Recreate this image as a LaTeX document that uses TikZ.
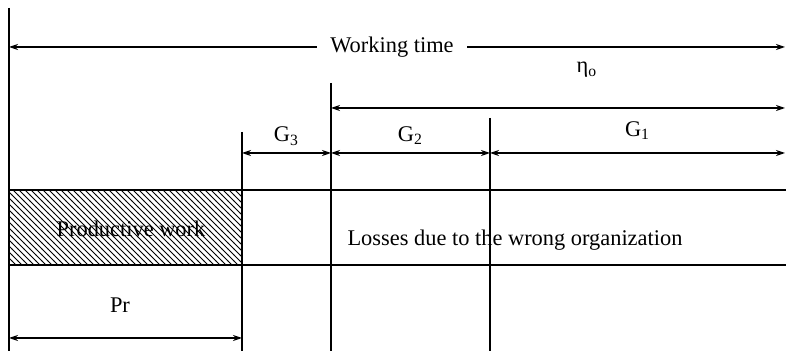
\documentclass[tikz,border=0pt]{standalone}
\usepackage{fontspec}
\setmainfont{Liberation Serif}
\usetikzlibrary{arrows.meta,patterns}

\begin{document}
\begin{tikzpicture}[x=0.5pt, y=-0.5pt, line width=0.6pt,
            >={Stealth[length=4.5pt, width=3pt]},
            lbl/.style = {font=\fontsize{11.2}{13}\selectfont, inner sep=0pt}]
            \useasboundingbox (0,0) rectangle (786,351);

            % verticals
            \coordinate (L0) at (9,8);      \coordinate (L1) at (9,351);
            \coordinate (P0) at (242,132);  \coordinate (P1) at (242,351);
            \coordinate (E0) at (331,83);   \coordinate (E1) at (331,351);
            \coordinate (F0) at (490,118);  \coordinate (F1) at (490,351);

            % bands
            \coordinate (U0) at (9,190);    \coordinate (U1) at (786,190);
            \coordinate (D0) at (9,265);    \coordinate (D1) at (786,265);

            \path[pattern=north west lines] (U0) rectangle (P1 |- D0);

            \draw (L0) -- (L1);
            \draw (P0) -- (P1);
            \draw (E0) -- (E1);
            \draw (F0) -- (F1);
            \draw (U0) -- (U1);
            \draw (D0) -- (D1);

            % working time
            \node[lbl, inner xsep=6.5pt] (WT) at (392,47) {Working time};
            \coordinate (WL) at (9,47);     \coordinate (WR) at (785,47);
            \path[->] (WT.west) edge (WL);
            \path[->] (WT.east) edge (WR);
            \node[lbl] (ETA) at (587,70) {η\textsubscript{o}};

            % eta
            \coordinate (NL) at (331,108);  \coordinate (NR) at (785,108);
            \path[<->] (NL) edge (NR);

            % G3, G2, G1
            \coordinate (G3L) at (242,153); \coordinate (G3R) at (331,153);
            \coordinate (G2R) at (490,153); \coordinate (G1R) at (785,153);
            \path[<->] (G3L) edge node[lbl, above=3.5pt] (G3) {G\textsubscript{3}} (G3R);
            \path[<->] (G3R) edge node[lbl, above=4pt] (G2) {G\textsubscript{2}} (G2R);
            \path[<->] (G2R) edge node[lbl, above=6.5pt] (G1) {G\textsubscript{1}} (G1R);

            % texts in band
            \node[lbl] (PW) at (131,229) {Productive work};
            \node[lbl] (LS) at (515,240) {Losses due to the wrong organization};

            % Pr
            \coordinate (RL) at (9,338);    \coordinate (RR) at (242,338);
            \path[<->] (RL) edge (RR);
            \node[lbl] (PR) at (120,305) {Pr};
        \end{tikzpicture}
\end{document}
